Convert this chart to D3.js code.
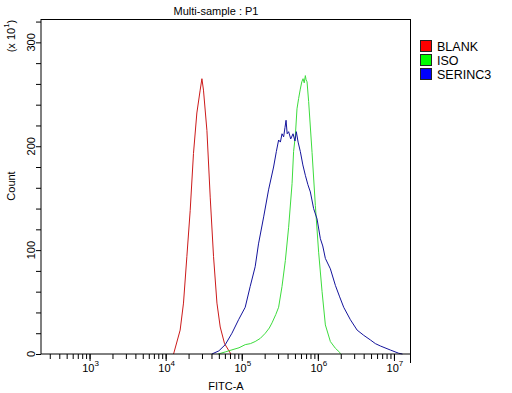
<!DOCTYPE html>
<html>
<head>
<meta charset="utf-8">
<script src="https://cdn.jsdelivr.net/npm/d3@7"></script>
<style>
  body { margin: 0; background: #fff; }
  text { font-family: "Liberation Sans", Arial, sans-serif; fill: #000; }
</style>
</head>
<body>
<svg id="chart" width="512" height="393"></svg>
<script>
// sample names and legend colours
const samples = ["BLANK", "ISO", "SERINC3"];
const legendColors = ["#ff0000", "#00ff00", "#0000ff"];
const lineColors = ["#cc1a1a", "#3ddc3d", "#14149c"];

// histogram points [FITC-A intensity, count (x10)]
const blankData = [
    [12700, 0], [15500, 23], [17150, 49], [19000, 94], [21000, 138],
    [23200, 193], [25700, 232], [28400, 254], [29950, 265], [31400, 254],
    [34850, 215], [38500, 151], [42550, 94], [47200, 49], [52100, 26],
    [59400, 10], [70600, 1], [72000, 0]
];
const isoData = [
    [49000, 0], [60700, 2], [74300, 4], [92000, 6], [111000, 9], [130000, 10],
    [150000, 12], [175000, 15], [204000, 20], [230000, 25], [250000, 30],
    [280000, 38], [305000, 45], [338000, 65], [374000, 90], [413000, 122],
    [458000, 164], [480000, 195], [506000, 210], [532000, 236], [559000, 246],
    [588000, 255], [615000, 262], [639000, 265], [662000, 261], [685000, 268],
    [700000, 264], [721000, 262], [757000, 243], [839000, 194], [927000, 143],
    [1024000, 98], [1136000, 60], [1255000, 28], [1460000, 12], [1700000, 5.5],
    [1935000, 1.6], [1980000, 0]
];
const serincData = [
    [40500, 0], [50000, 3], [60700, 9], [74300, 20], [90800, 33], [111000, 45],
    [129000, 65], [150000, 84], [166000, 106], [194000, 132], [225000, 158],
    [262000, 180], [285000, 195], [305000, 206], [322000, 204], [338000, 212],
    [355000, 209], [370000, 218], [382000, 225], [395000, 212], [413000, 214],
    [440000, 207], [472000, 212], [500000, 205], [521000, 214], [550000, 204],
    [588000, 195], [635000, 182], [685000, 172], [740000, 163], [797000, 156],
    [880000, 140], [976000, 130], [1079000, 111], [1160000, 104], [1255000, 92],
    [1460000, 82], [1700000, 66], [1935000, 55], [2186000, 45], [2677000, 33],
    [3280000, 23], [4005000, 18], [4907000, 13.5], [5700000, 10], [6644000, 7.7],
    [8995000, 3.8], [11570000, 0.7], [12940000, 0]
];
const seriesData = [blankData, isoData, serincData];

const xMajorTicks = [1e3, 1e4, 1e5, 1e6, 1e7];
const yMajorTicks = [0, 100, 200, 300];

const svg = d3.select("#chart");

const plotLeft = 41, plotRight = 410.5, plotTop = 19.5, plotBottom = 354;

let x = d3.scaleLog()
    .domain([230, 1.65e7])
    .range([plotLeft, plotRight]);

let y = d3.scaleLinear()
    .domain([0, 322])
    .range([plotBottom, plotTop]);

// curves
let line = d3.line()
    .x(d => x(d[0]))
    .y(d => y(d[1]));

seriesData.forEach(function (data, i) {
    svg.append("path")
        .datum(data)
        .attr("d", line)
        .attr("fill", "none")
        .attr("stroke", lineColors[i])
        .attr("stroke-width", 1);
});

// frame
svg.append("rect")
    .attr("x", plotLeft)
    .attr("y", plotTop)
    .attr("width", plotRight - plotLeft)
    .attr("height", plotBottom - plotTop)
    .attr("fill", "none")
    .attr("stroke", "#000")
    .attr("stroke-width", 1);

// x axis minor + major ticks
let xMinor = [];
for (let e = 2; e <= 7; e++) {
    for (let m = 1; m <= 9; m++) {
        let v = m * Math.pow(10, e);
        if (v >= x.domain()[0] && v <= x.domain()[1]) xMinor.push(v);
    }
}
svg.append("g")
    .attr("transform", `translate(0,${plotBottom})`)
    .call(d3.axisBottom(x).tickValues(xMinor).tickSize(5).tickFormat(""))
    .call(g => g.select(".domain").remove());
svg.append("g")
    .attr("transform", `translate(0,${plotBottom})`)
    .call(d3.axisBottom(x).tickValues(xMajorTicks).tickSize(7).tickFormat(""))
    .call(g => g.select(".domain").remove());
// tick at right end of axis
svg.append("line")
    .attr("x1", plotRight).attr("x2", plotRight)
    .attr("y1", plotBottom).attr("y2", plotBottom + 9)
    .attr("stroke", "#000");

// x tick labels with superscripts
xMajorTicks.forEach(function (v) {
    let t = svg.append("text")
        .attr("x", x(v) + 1)
        .attr("y", 372)
        .attr("text-anchor", "middle")
        .style("font-size", "11px");
    t.append("tspan").text("10");
    t.append("tspan")
        .text(Math.round(Math.log10(v)))
        .attr("dy", -6)
        .style("font-size", "8px");
});

svg.append("text")
    .attr("x", 226)
    .attr("y", 390)
    .attr("text-anchor", "middle")
    .style("font-size", "11px")
    .text("FITC-A");

// y axis ticks
svg.append("g")
    .attr("transform", `translate(${plotLeft},0)`)
    .call(d3.axisLeft(y).tickValues(d3.range(0, 321, 20)).tickSize(5).tickFormat(""))
    .call(g => g.select(".domain").remove());

yMajorTicks.forEach(function (v) {
    svg.append("text")
        .attr("transform", `translate(35,${y(v)}) rotate(-90)`)
        .attr("text-anchor", "middle")
        .style("font-size", "11px")
        .text(v);
});

let unit = svg.append("text")
    .attr("transform", "translate(15,36) rotate(-90)")
    .attr("text-anchor", "middle")
    .style("font-size", "11px");
unit.append("tspan").text("(x 10");
unit.append("tspan").text("1").attr("dy", -6).style("font-size", "8px");
unit.append("tspan").text(")").attr("dy", 6);

svg.append("text")
    .attr("transform", "translate(15,186) rotate(-90)")
    .attr("text-anchor", "middle")
    .style("font-size", "11px")
    .text("Count");

// title
svg.append("text")
    .attr("x", 216)
    .attr("y", 15)
    .attr("text-anchor", "middle")
    .style("font-size", "11px")
    .text("Multi-sample : P1");

// legend
samples.forEach(function (name, i) {
    let cy = 46 + i * 14;
    svg.append("rect")
        .attr("x", 420.5)
        .attr("y", cy - 5.5)
        .attr("width", 11)
        .attr("height", 11)
        .attr("fill", legendColors[i])
        .attr("stroke", "#222")
        .attr("stroke-width", 1);
    svg.append("text")
        .attr("x", 437)
        .attr("y", cy + 5)
        .style("font-size", "12.5px")
        .text(name);
});
</script>
</body>
</html>
